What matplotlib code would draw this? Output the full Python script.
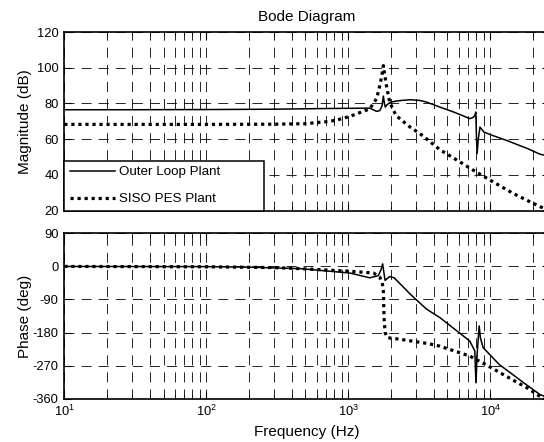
import numpy as np
import matplotlib
matplotlib.use("Agg")
import matplotlib.pyplot as plt
from matplotlib.ticker import LogLocator, NullFormatter

plt.rcParams["font.family"] = ["Liberation Sans", "DejaVu Sans"]
plt.rcParams["mathtext.fontset"] = "custom"
plt.rcParams["mathtext.rm"] = "Liberation Sans"
plt.rcParams["axes.unicode_minus"] = False

# =========================
# DATA
# =========================
# Outer Loop Plant - magnitude
outer_mag_f = [10, 30, 100, 300, 743, 1030, 1420, 1585, 1670, 1730, 1770, 1800,
               1825, 1877, 2000, 2300, 2730, 3200, 3560, 4420, 5500, 6500, 7190,
               7600, 7800, 7930, 8020, 8100, 8250, 8480, 9040, 10500, 13000,
               18300, 22500, 26000]
outer_mag = [76.5, 76.5, 76.6, 76.8, 77.2, 77.3, 77.4, 75.6, 76.0, 78.5, 84.1, 80.0,
             78.0, 79.3, 80.8, 81.6, 82.1, 81.7, 80.8, 78.0, 75.3, 73.0, 71.5,
             72.2, 73.3, 75.2, 60.0, 52.0, 60.0, 66.8, 64.0, 62.0, 59.4,
             54.8, 51.6, 50.5]

# SISO PES Plant - magnitude
siso_mag_f = [10, 100, 300, 500, 743, 855, 1030, 1420, 1585, 1670, 1730, 1770,
              1810, 1860, 1960, 2170, 2730, 3210, 4420, 7600, 10000, 14500,
              22500, 26000]
siso_mag = [68.3, 68.3, 68.4, 68.7, 70.0, 71.0, 72.8, 77.0, 82.7, 90.0, 96.0, 101.2,
            96.0, 90.0, 80.8, 73.3, 66.8, 63.1, 54.2, 42.7, 37.1, 29.7,
            22.2, 20.5]

# Outer Loop Plant - phase
outer_ph_f = [10, 100, 200, 458, 1030, 1420, 1630, 1700, 1750, 1790, 1820, 1960,
              2110, 2730, 3560, 4420, 7190, 7800, 7950, 8100, 8370, 8550, 8930,
              11600, 17300, 22500, 26000]
outer_ph = [0, -0.5, -2, -6, -18, -31, -25, -10, 7, -20, -38, -27.5,
            -31, -75, -116, -139, -203, -230, -317, -240, -162, -195, -221,
            -267, -317, -349, -358]

# SISO PES Plant - phase
siso_ph_f = [10, 100, 290, 458, 1030, 1510, 1670, 1740, 1770, 1790, 1820, 1890,
             2300, 3660, 4420, 7190, 9300, 13000, 18300, 22500, 26000]
siso_ph = [0, -1, -3, -6, -13, -18, -29, -45, -66, -139, -180, -194,
           -198, -210, -217, -244, -267, -299, -331, -354, -362]

mag_ticks = [20, 40, 60, 80, 100, 120]
ph_ticks = [-360, -270, -180, -90, 0, 90]
series_labels = ["Outer Loop Plant", "SISO PES Plant"]

# =========================
# FIGURE
# =========================
fig = plt.figure(figsize=(5.44, 4.42), dpi=100)
ax1 = fig.add_axes([0.1182, 0.5233, 0.891, 0.4043])
ax2 = fig.add_axes([0.1182, 0.0980, 0.891, 0.3740])

dotted = (0, (1, 1.2))
grid_ls = (0, (12, 8.5))

def style_axis(ax):
    ax.set_xscale("log")
    ax.set_xlim(10, 2.6e4)
    ax.xaxis.set_major_locator(LogLocator(base=10))
    ax.xaxis.set_minor_locator(LogLocator(base=10, subs=np.arange(2, 10)))
    ax.xaxis.set_minor_formatter(NullFormatter())
    ax.grid(True, which="major", axis="both", color="black", lw=0.6, linestyle=grid_ls)
    ax.grid(True, which="minor", axis="x", color="black", lw=0.6, linestyle=grid_ls)
    ax.tick_params(which="both", direction="in", top=True, right=True, labelsize=9.3)
    ax.tick_params(which="major", length=5, pad=4)
    ax.tick_params(which="minor", length=3)
    for sp in ax.spines.values():
        sp.set_linewidth(1.2)

# Magnitude
ax1.plot(outer_mag_f, outer_mag, color="black", lw=1.1, label=series_labels[0])
ax1.plot(siso_mag_f, siso_mag, color="black", lw=2.3, linestyle=dotted, label=series_labels[1])
style_axis(ax1)
ax1.set_ylim(20, 120)
ax1.set_yticks(mag_ticks)
ax1.tick_params(labelbottom=False)
ax1.set_ylabel("Magnitude (dB)", fontsize=11)
ax1.set_title("Bode Diagram", fontsize=11, pad=8)
leg = ax1.legend(loc="lower left", bbox_to_anchor=(0, 0, 0.413, 0.3), mode="expand",
                 borderaxespad=0, fontsize=9.6, handlelength=3.4,
                 fancybox=False, framealpha=1, edgecolor="black",
                 borderpad=0.4, labelspacing=1.1, handletextpad=0.3)
leg.get_frame().set_linewidth(1.1)

# Phase
ax2.plot(outer_ph_f, outer_ph, color="black", lw=1.1)
ax2.plot(siso_ph_f, siso_ph, color="black", lw=2.3, linestyle=dotted)
style_axis(ax2)
ax2.set_ylim(-360, 90)
ax2.set_yticks(ph_ticks)
ax2.set_ylabel("Phase (deg)", fontsize=11)
ax2.set_xlabel("Frequency (Hz)", fontsize=11, labelpad=4)

ax1.yaxis.set_label_coords(-0.066, 0.5)
ax2.yaxis.set_label_coords(-0.066, 0.5)

fig.savefig("out.png", dpi=100)
